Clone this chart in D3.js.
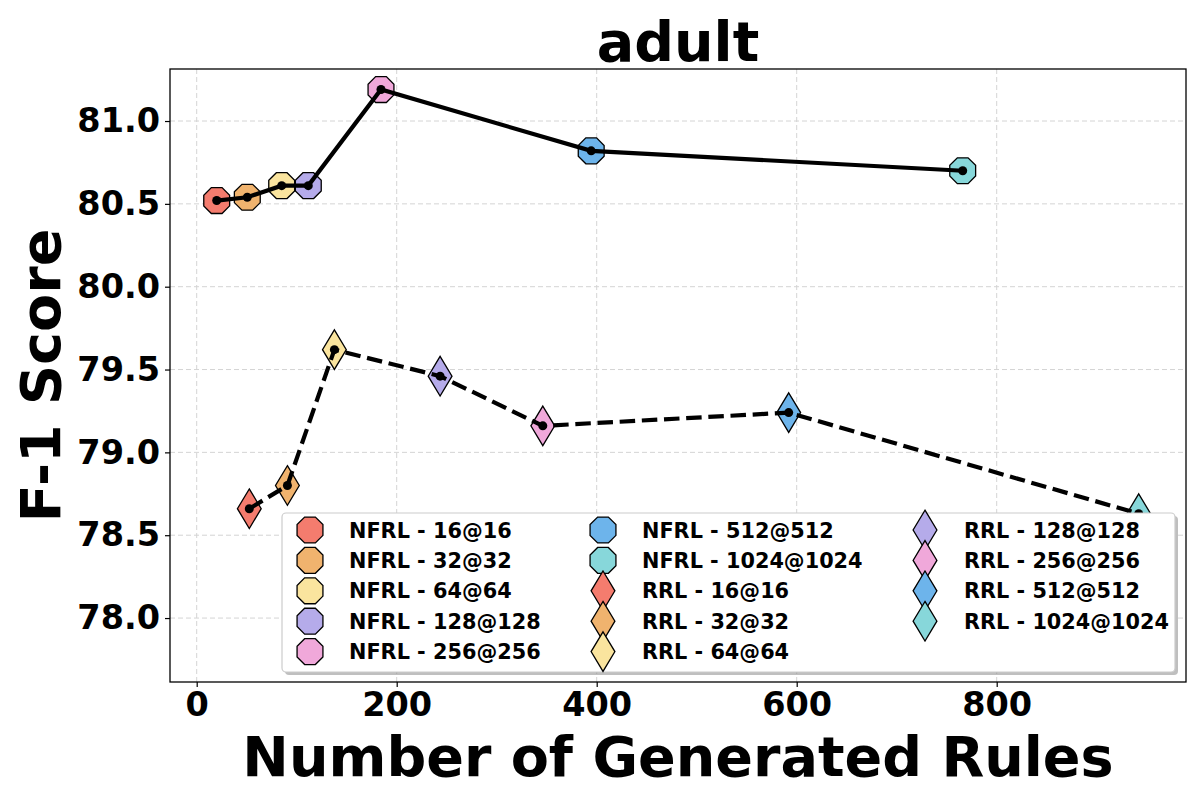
<!DOCTYPE html>
<html>
<head>
<meta charset="utf-8">
<script src="https://cdn.jsdelivr.net/npm/d3@7"></script>
<style>
  body { margin: 0; background: #fff; }
  text { font-family: "DejaVu Sans", sans-serif; font-weight: bold; }
</style>
</head>
<body>
<svg id="chart"></svg>
<script>
const configs = ['16@16', '32@32', '64@64', '128@128', '256@256', '512@512', '1024@1024'];
const colors = ['#f47c6e', '#f0b36e', '#fae49e', '#b5abea', '#f0a8da', '#6db4eb', '#87d7da'];

const nfrlRules = [20, 50.6, 85, 111.6, 184.3, 394.5, 766];
const nfrlF1 = [80.52, 80.54, 80.61, 80.61, 81.19, 80.82, 80.70];

const rrlRules = [52.6, 90.7, 137.7, 243.4, 346.1, 592, 942];
const rrlF1 = [78.66, 78.80, 79.62, 79.46, 79.16, 79.24, 78.63];

const xTicks = [0, 200, 400, 600, 800];
const yTicks = [78.0, 78.5, 79.0, 79.5, 80.0, 80.5, 81.0];

const width = 1200;
const height = 800;
const margin = { left: 170, right: 14, top: 69, bottom: 118 };

const svg = d3.select('#chart')
    .attr('width', width)
    .attr('height', height);

const xScale = d3.scaleLinear()
    .domain([-26.7, 989.3])
    .range([margin.left, width - margin.right]);

const yScale = d3.scaleLinear()
    .domain([77.614, 81.314])
    .range([height - margin.bottom, margin.top]);

// octagon with flat top, thin diamond like matplotlib '8' and 'd'
const octagon = r => {
    let pts = d3.range(8).map(i => {
        let a = Math.PI / 8 + i * Math.PI / 4;
        return [r * Math.cos(a), r * Math.sin(a)];
    });
    return 'M' + pts.map(p => p.join(',')).join('L') + 'Z';
};
const diamond = (w, h) => `M0,${-h}L${w},0L0,${h}L${-w},0Z`;

const octPath = octagon(14);
const diaPath = diamond(11.9, 19.8);

const nfrl = nfrlRules.map((x, i) => ({ x: x, y: nfrlF1[i], color: colors[i] }));
const rrl = rrlRules.map((x, i) => ({ x: x, y: rrlF1[i], color: colors[i] }));

// grid
const grid = svg.append('g');
grid.selectAll('.gx')
    .data(xTicks)
    .enter()
    .append('line')
    .attr('x1', d => xScale(d))
    .attr('x2', d => xScale(d))
    .attr('y1', margin.top)
    .attr('y2', height - margin.bottom)
    .attr('stroke', '#d4d4d4')
    .attr('stroke-width', 1)
    .attr('stroke-dasharray', '5,3');
grid.selectAll('.gy')
    .data(yTicks)
    .enter()
    .append('line')
    .attr('x1', margin.left)
    .attr('x2', width - margin.right)
    .attr('y1', d => yScale(d))
    .attr('y2', d => yScale(d))
    .attr('stroke', '#d4d4d4')
    .attr('stroke-width', 1)
    .attr('stroke-dasharray', '5,3');

// big markers
svg.append('g').selectAll('path')
    .data(nfrl)
    .enter()
    .append('path')
    .attr('d', octPath)
    .attr('transform', d => `translate(${xScale(d.x)},${yScale(d.y)})`)
    .attr('fill', d => d.color)
    .attr('stroke', '#000')
    .attr('stroke-width', 1.3);

svg.append('g').selectAll('path')
    .data(rrl)
    .enter()
    .append('path')
    .attr('d', diaPath)
    .attr('transform', d => `translate(${xScale(d.x)},${yScale(d.y)})`)
    .attr('fill', d => d.color)
    .attr('stroke', '#000')
    .attr('stroke-width', 1.3);

// lines
const line = d3.line()
    .x(d => xScale(d.x))
    .y(d => yScale(d.y));

svg.append('path')
    .datum(nfrl)
    .attr('d', line)
    .attr('fill', 'none')
    .attr('stroke', '#000')
    .attr('stroke-width', 4.2);

svg.append('path')
    .datum(rrl)
    .attr('d', line)
    .attr('fill', 'none')
    .attr('stroke', '#000')
    .attr('stroke-width', 4.2)
    .attr('stroke-dasharray', '15.5,6.7');

svg.append('g').selectAll('circle')
    .data(nfrl.concat(rrl))
    .enter()
    .append('circle')
    .attr('cx', d => xScale(d.x))
    .attr('cy', d => yScale(d.y))
    .attr('r', 4.5)
    .attr('fill', '#000');

// axes
const xAxis = d3.axisBottom(xScale)
    .tickValues(xTicks)
    .tickSize(5)
    .tickPadding(5)
    .tickFormat(d3.format('d'));
const yAxis = d3.axisLeft(yScale)
    .tickValues(yTicks)
    .tickSize(5)
    .tickPadding(5)
    .tickFormat(d3.format('.1f'));

const gx = svg.append('g')
    .attr('transform', 'translate(0,' + (height - margin.bottom) + ')')
    .call(xAxis);
const gy = svg.append('g')
    .attr('transform', 'translate(' + margin.left + ',0)')
    .call(yAxis);

[gx, gy].forEach(g => {
    g.select('.domain').remove();
    g.selectAll('.tick line').attr('stroke', '#000').attr('stroke-width', 1.2);
    g.selectAll('.tick text')
        .attr('fill', '#000')
        .style('font-size', '33.5px')
        .style('font-family', '"DejaVu Sans", sans-serif')
        .style('font-weight', 'bold');
});

// legend
const legendItems = nfrl.map((d, i) => ({ label: 'NFRL - ' + configs[i], shape: octPath, color: d.color }))
    .concat(rrl.map((d, i) => ({ label: 'RRL - ' + configs[i], shape: diaPath, color: d.color })));

const lx = 282, ly = 513, lw = 893, lh = 159;
const legend = svg.append('g');
legend.append('rect')
    .attr('x', lx + 3)
    .attr('y', ly + 3)
    .attr('width', lw)
    .attr('height', lh)
    .attr('rx', 4)
    .attr('fill', '#7f7f7f')
    .attr('opacity', 0.5);
legend.append('rect')
    .attr('x', lx)
    .attr('y', ly)
    .attr('width', lw)
    .attr('height', lh)
    .attr('rx', 4)
    .attr('fill', '#fff')
    .attr('stroke', '#cccccc')
    .attr('stroke-width', 1.2);

const colX = [310, 603, 925];
const rowY = i => 530 + i * 30.4;

const items = legend.selectAll('.item')
    .data(legendItems)
    .enter()
    .append('g')
    .attr('transform', (d, i) => `translate(${colX[Math.floor(i / 5)]},${rowY(i % 5)})`);
items.append('path')
    .attr('d', d => d.shape)
    .attr('fill', d => d.color)
    .attr('stroke', '#000')
    .attr('stroke-width', 1.3);
items.append('text')
    .attr('x', 39)
    .attr('y', 0)
    .attr('dy', '0.36em')
    .style('font-size', '20.8px')
    .text(d => d.label);

// frame
svg.append('rect')
    .attr('x', margin.left)
    .attr('y', margin.top)
    .attr('width', width - margin.left - margin.right)
    .attr('height', height - margin.top - margin.bottom)
    .attr('fill', 'none')
    .attr('stroke', '#000')
    .attr('stroke-width', 1.3);

// labels
svg.append('text')
    .attr('x', (margin.left + width - margin.right) / 2)
    .attr('y', 61)
    .attr('text-anchor', 'middle')
    .style('font-size', '55.6px')
    .text('adult');

svg.append('text')
    .attr('x', (margin.left + width - margin.right) / 2)
    .attr('y', 776)
    .attr('text-anchor', 'middle')
    .style('font-size', '55.6px')
    .text('Number of Generated Rules');

svg.append('text')
    .attr('transform', `translate(60,${(margin.top + height - margin.bottom) / 2}) rotate(-90)`)
    .attr('text-anchor', 'middle')
    .style('font-size', '55.6px')
    .text('F-1 Score');
</script>
</body>
</html>
